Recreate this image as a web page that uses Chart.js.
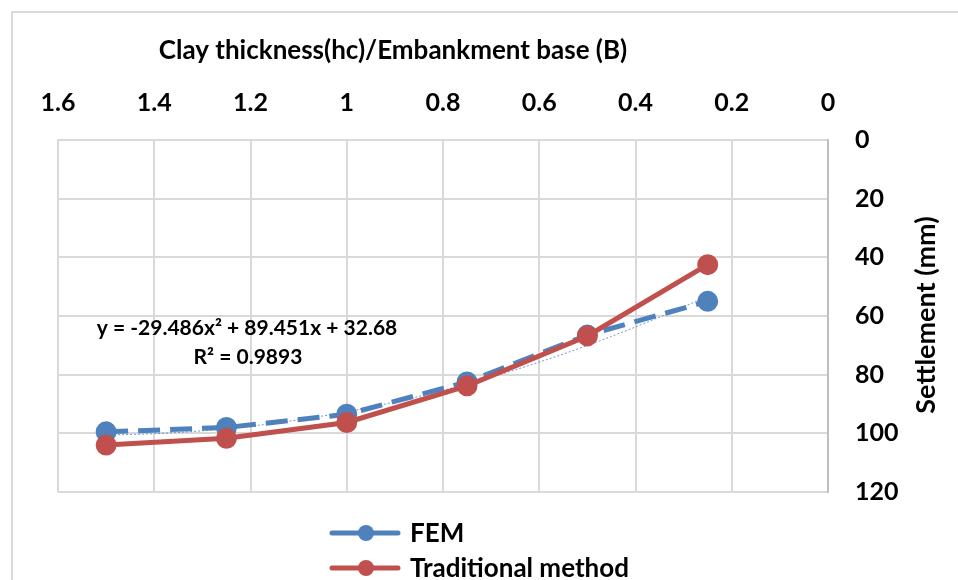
<!DOCTYPE html>
<html>
<head>
<meta charset="utf-8">
<script src="https://cdn.jsdelivr.net/npm/chart.js@4.4.0/dist/chart.umd.min.js"></script>
<style>
  html, body { margin: 0; padding: 0; background: #fff; }
  canvas { display: block; }
</style>
</head>
<body>
<canvas id="grafica" width="958" height="580"></canvas>
<script>
// values
const ratioHcB = [1.5, 1.25, 1, 0.75, 0.5, 0.25]
const femSettlement = [99.5, 98, 93.5, 82.5, 66.5, 55]
const tradSettlement = [104, 101.7, 96.3, 83.8, 66.8, 42.5]
const xTicks = [1.6, 1.4, 1.2, 1, 0.8, 0.6, 0.4, 0.2, 0]
const yTicks = [0, 20, 40, 60, 80, 100, 120]
// poly trendline of FEM as printed on the chart: a*x^2 + b*x + c
const trendCoef = [-29.486, 89.451, 32.68]
const trendLabel = ['y = -29.486x² + 89.451x + 32.68', 'R² = 0.9893']

const azul = '#4F81BD'
const rojo = '#C0504D'
const rejilla = '#D9D9D9'
const fuente = 'Lato, "DejaVu Sans", sans-serif'

const trendX = []
for (let i = 0; i <= 50; i++) trendX.push(1.5 - i * 0.025)
const trendData = trendX.map(x => ({ x: x, y: trendCoef[0] * x * x + trendCoef[1] * x + trendCoef[2] }))

const femData = ratioHcB.map((x, i) => ({ x: x, y: femSettlement[i] }))
const tradData = ratioHcB.map((x, i) => ({ x: x, y: tradSettlement[i] }))

const extras = {
    id: 'extras',
    beforeDraw(chart) {
        const ctx = chart.ctx
        ctx.save()
        ctx.fillStyle = '#fff'
        ctx.fillRect(0, 0, chart.width, chart.height)
        ctx.strokeStyle = rejilla
        ctx.lineWidth = 2
        ctx.strokeRect(12, 12, chart.width + 20, chart.height + 20)
        ctx.restore()
    },
    afterDraw(chart) {
        const ctx = chart.ctx
        ctx.save()
        ctx.fillStyle = '#000'
        ctx.textAlign = 'center'
        ctx.textBaseline = 'middle'

        // top axis title (sits left of centre in the original)
        ctx.font = 'bold 26px ' + fuente
        ctx.fillText('Clay thickness(hc)/Embankment base (B)', 393, 51)

        // trendline label
        ctx.font = 'bold 21px ' + fuente
        ctx.fillText(trendLabel[0], 247, 328)
        ctx.fillText(trendLabel[1], 248, 357)

        // right axis title, reads bottom to top
        ctx.save()
        ctx.translate(926, 315)
        ctx.rotate(-Math.PI / 2)
        ctx.font = 'bold 27px ' + fuente
        ctx.fillText('Settlement (mm)', 0, 0)
        ctx.restore()

        // legend (two rows)
        const filas = [chart.data.datasets[1], chart.data.datasets[0]]
        const ys = [533, 568]
        ctx.font = 'bold 26px ' + fuente
        ctx.textAlign = 'left'
        filas.forEach((ds, i) => {
            const y = ys[i]
            ctx.strokeStyle = ds.borderColor
            ctx.lineWidth = 5
            ctx.lineCap = 'round'
            ctx.beginPath()
            ctx.moveTo(332, y)
            ctx.lineTo(398, y)
            ctx.stroke()
            ctx.fillStyle = ds.backgroundColor
            ctx.beginPath()
            ctx.arc(366, y, 8, 0, Math.PI * 2)
            ctx.fill()
            ctx.fillStyle = '#000'
            ctx.fillText(ds.label, 410, y + 1)
        })
        ctx.restore()
    }
}

const config = {
    type: 'scatter',
    data: {
        datasets: [
            {
                label: 'Traditional method',
                data: tradData,
                showLine: true,
                borderColor: rojo,
                backgroundColor: rojo,
                borderWidth: 5,
                pointRadius: 8,
                pointHoverRadius: 8,
                order: 0
            },
            {
                label: 'FEM',
                data: femData,
                showLine: true,
                borderColor: azul,
                backgroundColor: azul,
                borderWidth: 5,
                borderDash: [22, 10],
                pointRadius: 8,
                pointHoverRadius: 8,
                order: 1
            },
            {
                label: 'Poly. (FEM)',
                data: trendData,
                showLine: true,
                borderColor: 'rgba(79, 129, 189, 0.8)',
                borderWidth: 1,
                borderDash: [2, 2],
                pointRadius: 0,
                order: 2
            }
        ]
    },
    options: {
        responsive: false,
        animation: false,
        layout: { padding: { left: 58, right: 0, top: 0, bottom: 88 } },
        plugins: {
            legend: { display: false },
            tooltip: { enabled: false }
        },
        scales: {
            x: {
                type: 'linear',
                position: 'top',
                reverse: true,
                min: 0,
                max: 1.6,
                afterBuildTicks: s => { s.ticks = xTicks.map(v => ({ value: v })) },
                afterFit: s => { s.height = 140 },
                ticks: {
                    color: '#000',
                    font: { family: fuente, size: 25, weight: 'bold' },
                    padding: 22,
                    maxRotation: 0,
                    callback: v => String(+v.toFixed(1))
                },
                grid: { color: rejilla, lineWidth: 2, drawTicks: false },
                border: { color: rejilla, width: 2 }
            },
            y: {
                type: 'linear',
                position: 'right',
                reverse: true,
                min: 0,
                max: 120,
                afterBuildTicks: s => { s.ticks = yTicks.map(v => ({ value: v })) },
                afterFit: s => { s.width = 130 },
                ticks: {
                    color: '#000',
                    font: { family: fuente, size: 25, weight: 'bold' },
                    padding: 27
                },
                grid: { color: rejilla, lineWidth: 2, drawTicks: false },
                border: { color: '#BFBFBF', width: 2 }
            }
        }
    },
    plugins: [extras]
}

window.graficaUno = new Chart(document.getElementById('grafica'), config)
</script>
</body>
</html>
